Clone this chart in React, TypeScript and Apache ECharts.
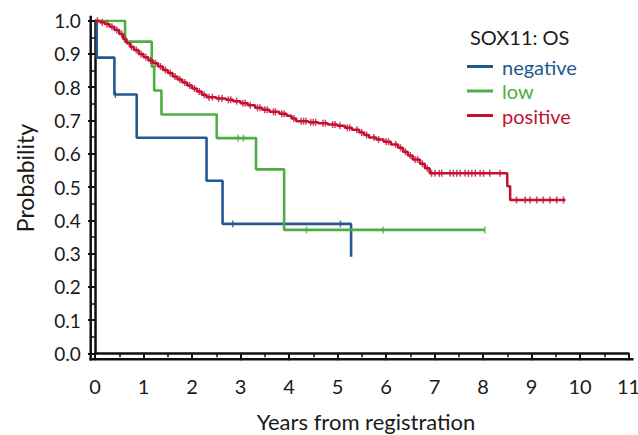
import React, { useEffect, useRef } from "react";
import * as echarts from "echarts";

// ---- data ----
const xTicks = [0, 1, 2, 3, 4, 5, 6, 7, 8, 9, 10, 11];
const yTicks = [0, 0.1, 0.2, 0.3, 0.4, 0.5, 0.6, 0.7, 0.8, 0.9, 1.0];

const negT = [0, 0.035, 0.4, 0.86, 2.3, 2.63, 5.28];
const negS = [1, 0.889, 0.778, 0.648, 0.519, 0.389, 0.29];
const negCensor = [0.42, 2.84, 5.06];

const lowT = [0, 0.62, 1.17, 1.22, 1.37, 2.51, 3.32, 3.9, 8.04];
const lowS = [1, 0.937, 0.862, 0.79, 0.718, 0.647, 0.553, 0.371, 0.371];
const lowCensor = [2.95, 3.06, 4.36, 5.94, 8.04];

const posT = [
  0, 0.1, 0.2, 0.3, 0.4, 0.5, 0.58, 0.65, 0.72, 0.8, 0.9, 1.0, 1.1, 1.2, 1.3, 1.4,
  1.5, 1.6, 1.7, 1.8, 1.9, 2.0, 2.1, 2.2, 2.3, 2.5, 2.7, 2.85, 3.0, 3.15, 3.3, 3.45,
  3.6, 3.8, 3.95, 4.05, 4.15, 4.4, 4.6, 4.8, 5.0, 5.15, 5.3, 5.45, 5.55, 5.65, 5.8,
  5.95, 6.1, 6.25, 6.35, 6.45, 6.55, 6.7, 6.8, 6.9, 8.5, 8.56, 9.7,
];
const posS = [
  1, 0.995, 0.99, 0.982, 0.972, 0.96, 0.945, 0.932, 0.922, 0.912, 0.9, 0.89, 0.88,
  0.872, 0.862, 0.852, 0.843, 0.832, 0.823, 0.814, 0.805, 0.796, 0.787, 0.777, 0.77,
  0.766, 0.762, 0.758, 0.752, 0.746, 0.738, 0.732, 0.726, 0.72, 0.714, 0.706, 0.698,
  0.695, 0.692, 0.688, 0.684, 0.678, 0.672, 0.664, 0.656, 0.649, 0.643, 0.636, 0.628,
  0.618, 0.606, 0.595, 0.583, 0.57, 0.556, 0.541, 0.502, 0.461, 0.461,
];
const posCensor = [
  0.05, 0.15, 0.25, 0.35, 0.45, 0.55, 0.62, 0.75, 0.85, 0.95, 1.05, 1.15, 1.25, 1.35,
  1.45, 1.55, 1.65, 1.75, 1.85, 1.95, 2.05, 2.15, 2.25, 2.35, 2.42, 2.55, 2.62, 2.75,
  2.8, 2.92, 3.05, 3.1, 3.2, 3.35, 3.4, 3.5, 3.55, 3.68, 3.72, 3.85, 3.9, 4.1, 4.25,
  4.3, 4.35, 4.45, 4.5, 4.55, 4.7, 4.75, 4.9, 4.95, 5.05, 5.2, 5.25, 5.4, 5.5, 5.6,
  5.75, 5.85, 6.0, 6.05, 6.2, 6.3, 6.4, 6.5, 6.6, 6.65, 6.75, 6.85, 6.94, 7.01, 7.1,
  7.15, 7.32, 7.39, 7.46, 7.53, 7.63, 7.7, 7.77, 7.84, 7.94, 8.01, 8.14, 8.35, 8.69,
  8.87, 8.97, 9.11, 9.24, 9.38, 9.52, 9.66,
];

const groups = [
  { name: "negative", T: negT, S: negS, C: negCensor, color: "#23598f", width: 2.6 },
  { name: "low", T: lowT, S: lowS, C: lowCensor, color: "#4fad45", width: 2.6 },
  { name: "positive", T: posT, S: posS, C: posCensor, color: "#c3112f", width: 2.5 },
];

function survAt(T: number[], S: number[], t: number) {
  let s = S[0];
  for (let i = 0; i < T.length; i++) if (T[i] <= t) s = S[i];
  return s;
}

// ---- layout ----
const GL = 95;
const GT = 20.7;
const GW = 533.5;
const GH = 332.6;
const YOFF = 4.3;
const XOFF = 6;
const FONT = "Lato, 'Open Sans', sans-serif";

export default function App() {
  const ref = useRef<HTMLDivElement>(null);
  useEffect(() => {
    if (!ref.current) return;
    const chart = echarts.init(ref.current, undefined, { renderer: "svg" });
    const series: any[] = [];
    groups.forEach((g) => {
      series.push({
        name: g.name,
        type: "line",
        step: "end",
        showSymbol: false,
        symbol: "none",
        data: g.T.map((t, i) => [t, g.S[i]]),
        lineStyle: { color: g.color, width: g.width },
        itemStyle: { color: g.color },
        z: 3,
      });
      series.push({
        name: g.name + "-censor",
        type: "scatter",
        symbol: "rect",
        symbolSize: [1.5, 7],
        data: g.C.map((t) => [t, survAt(g.T, g.S, t)]),
        itemStyle: { color: g.color },
        z: 4,
      });
    });
    const axisColor = "#111";
    chart.setOption({
      animation: false,
      backgroundColor: "#fff",
      grid: { left: GL, top: GT, width: GW, height: GH, containLabel: false, outerBoundsMode: "none" },
      title: {
        text: "SOX11: OS",
        left: 470,
        top: 27,
        textStyle: { fontFamily: FONT, fontSize: 20, fontWeight: "normal", color: "#1a1a1a" },
        padding: 0,
      },
      legend: {
        orient: "vertical",
        left: 467,
        top: 56.5,
        itemWidth: 26,
        itemHeight: 3,
        itemGap: 4.5,
        icon: "rect",
        padding: 0,
        textStyle: { fontFamily: FONT, fontSize: 20, lineHeight: 20, padding: [0, 0, 0, 4] },
        data: groups.map((g) => ({ name: g.name, textStyle: { color: g.color }, itemStyle: { color: g.color } })),
      },
      xAxis: {
        type: "value",
        min: xTicks[0],
        max: xTicks[xTicks.length - 1],
        interval: 1,
        offset: XOFF,
        splitLine: { show: false },
        axisLine: { show: true, lineStyle: { color: axisColor, width: 2.5 } },
        axisTick: { show: true, length: 7, lineStyle: { color: axisColor, width: 2 } },
        minorTick: { show: true, splitNumber: 2, length: 4, lineStyle: { color: axisColor, width: 1.5 } },
        axisLabel: { margin: 17, fontFamily: FONT, fontSize: 20, color: "#1a1a1a" },
      },
      yAxis: {
        type: "value",
        min: yTicks[0],
        max: yTicks[yTicks.length - 1],
        interval: 0.1,
        offset: YOFF,
        splitLine: { show: false },
        axisLine: { show: true, lineStyle: { color: axisColor, width: 2.5 } },
        axisTick: { show: true, length: 7, lineStyle: { color: axisColor, width: 2 } },
        minorTick: { show: true, splitNumber: 2, length: 4, lineStyle: { color: axisColor, width: 1.5 } },
        axisLabel: {
          margin: 10,
          fontFamily: FONT,
          fontSize: 19,
          color: "#1a1a1a",
          formatter: (v: number) => v.toFixed(1),
        },
      },
      graphic: [
        {
          type: "line",
          shape: { x1: GL - YOFF, y1: GT - 5, x2: GL - YOFF, y2: GT + GH + XOFF + 1.2 },
          style: { stroke: axisColor, lineWidth: 2.5 },
          silent: true,
        },
        {
          type: "line",
          shape: { x1: GL - YOFF - 1.2, y1: GT + GH + XOFF, x2: GL + GW + 5, y2: GT + GH + XOFF },
          style: { stroke: axisColor, lineWidth: 2.5 },
          silent: true,
        },
        {
          type: "text",
          x: 25,
          y: 178,
          rotation: Math.PI / 2,
          style: {
            text: "Probability",
            fontFamily: FONT,
            fontSize: 23,
            fill: "#1a1a1a",
            align: "center",
            verticalAlign: "middle",
          },
        },
        {
          type: "text",
          x: 366,
          y: 421,
          style: {
            text: "Years from registration",
            fontFamily: FONT,
            fontSize: 22,
            fill: "#1a1a1a",
            align: "center",
            verticalAlign: "middle",
          },
        },
      ],
      series,
    });
    return () => chart.dispose();
  }, []);
  return (
    <div
      ref={ref}
      style={{ position: "fixed", left: 0, top: 0, width: 638, height: 435, background: "#fff" }}
    />
  );
}
